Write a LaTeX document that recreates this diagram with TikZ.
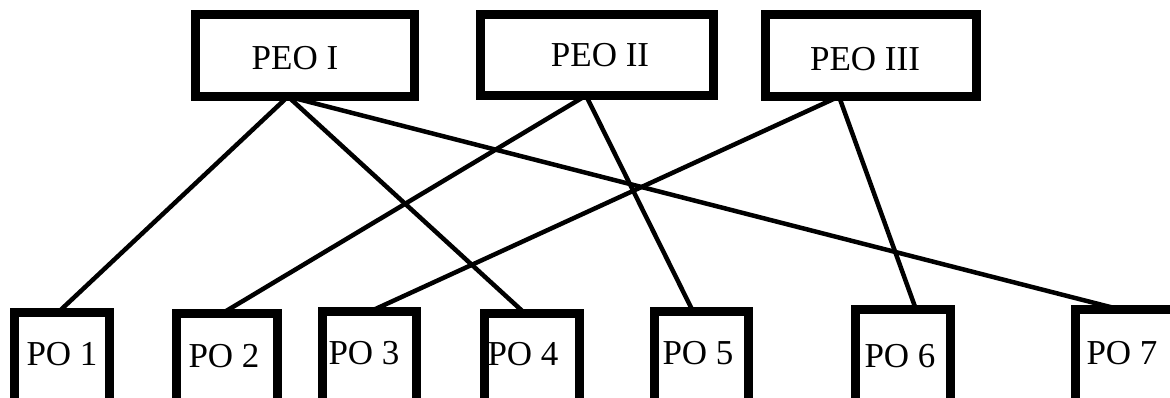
\documentclass[tikz,border=0pt]{standalone}
\usepackage{fontspec}
\setmainfont{Liberation Serif}
\begin{document}
\begin{tikzpicture}[x=1pt,y=-1pt,
  box/.style={draw=black, line width=9pt, fill=white, inner sep=0pt, outer sep=0pt},
  lbl/.style={inner sep=0pt, anchor=base, font=\fontsize{35}{40}\selectfont},
  link/.style={draw=black, line width=4.5pt}]
  \useasboundingbox (0,0) rectangle (1170,398);
  \clip (0,0) rectangle (1170,398);

  % objectives (top row)
  \node[box, minimum width=219pt, minimum height=82pt] (peo1) at (305,55.5) {};
  \node[box, minimum width=233pt, minimum height=81pt] (peo2) at (597,55) {};
  \node[box, minimum width=211pt, minimum height=82pt] (peo3) at (871,55.5) {};

  % outcomes (bottom row)
  \node[box, anchor=north, minimum width=95pt,  minimum height=120pt] (po1) at (62,312.5) {};
  \node[box, anchor=north, minimum width=101pt, minimum height=120pt] (po2) at (227,313.5) {};
  \node[box, anchor=north, minimum width=94pt,  minimum height=120pt] (po3) at (369.5,311.5) {};
  \node[box, anchor=north, minimum width=95pt,  minimum height=120pt] (po4) at (532,313.5) {};
  \node[box, anchor=north, minimum width=94pt,  minimum height=120pt] (po5) at (701.5,311.5) {};
  \node[box, anchor=north, minimum width=95pt,  minimum height=120pt] (po6) at (903,309.5) {};
  \node[box, anchor=north, minimum width=99pt,  minimum height=120pt] (po7) at (1125,309.5) {};

  % mapping lines
  \draw[link] ([xshift=-17pt]peo1.south) -- ([xshift=-4pt]po1.north);
  \draw[link] ([xshift=-17pt]peo1.south) -- ([xshift=-7pt]po4.north);
  \draw[link] ([xshift=-17pt]peo1.south) -- ([xshift=-5pt]po7.north);
  \draw[link] ([xshift=-11pt]peo2.south) -- ([xshift=-5pt]po2.north);
  \draw[link] ([xshift=-11pt]peo2.south) -- ([xshift=-8.5pt]po5.north);
  \draw[link] ([xshift=-32pt]peo3.south) -- ([xshift=0.5pt]po3.north);
  \draw[link] ([xshift=-32pt]peo3.south) -- ([xshift=13pt]po6.north);

  % labels
  \node[lbl] (t1) at (295,70) {PEO I};
  \node[lbl] (t2) at (600,67) {PEO II};
  \node[lbl] (t3) at (865,71) {PEO III};
  \node[lbl] (u1) at (62,365) {PO 1};
  \node[lbl] (u2) at (224,367) {PO 2};
  \node[lbl] (u3) at (364,364) {PO 3};
  \node[lbl] (u4) at (523,365) {PO 4};
  \node[lbl] (u5) at (698,364) {PO 5};
  \node[lbl] (u6) at (900,367) {PO 6};
  \node[lbl] (u7) at (1122,364) {PO 7};
\end{tikzpicture}
\end{document}
